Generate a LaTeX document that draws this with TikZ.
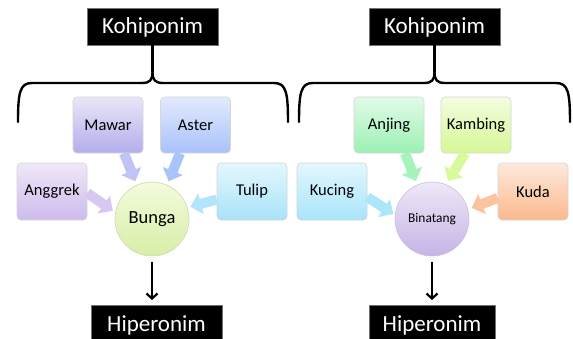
\documentclass[tikz,border=0pt]{standalone}
\usepackage{fontspec}
\setmainfont{Carlito}
\usetikzlibrary{arrows.meta,calc}
\definecolor{mawT}{HTML}{E9E6F8}\definecolor{mawB}{HTML}{B3ADEB}\definecolor{mawA}{HTML}{C0C4F4}
\definecolor{astT}{HTML}{E2EAFD}\definecolor{astB}{HTML}{A9C1FB}\definecolor{astA}{HTML}{A9C3FB}
\definecolor{angT}{HTML}{EFE8F8}\definecolor{angB}{HTML}{CDBBEC}\definecolor{angA}{HTML}{D6C8F1}
\definecolor{tulT}{HTML}{E3F7FE}\definecolor{tulB}{HTML}{A9E3F9}\definecolor{tulA}{HTML}{B2E5FB}
\definecolor{bunT}{HTML}{F4FBDD}\definecolor{bunB}{HTML}{D7EEA6}\definecolor{bunD}{HTML}{CCD9B0}
\definecolor{anjT}{HTML}{E2FBE9}\definecolor{anjB}{HTML}{9BF0B2}\definecolor{anjA}{HTML}{A6F3BC}
\definecolor{kamT}{HTML}{F4FDDF}\definecolor{kamB}{HTML}{D6F797}\definecolor{kamA}{HTML}{D9FA9A}
\definecolor{kucT}{HTML}{E3F7FE}\definecolor{kucB}{HTML}{A8E4F9}\definecolor{kucA}{HTML}{ACE6FA}
\definecolor{kudT}{HTML}{FDE9DC}\definecolor{kudB}{HTML}{FBB98D}\definecolor{kudA}{HTML}{FBC39E}
\definecolor{binT}{HTML}{EEE8F7}\definecolor{binB}{HTML}{C6B3E6}\definecolor{binD}{HTML}{C9C0DA}
\begin{document}
\begin{tikzpicture}[x=1pt,y=-1pt,
  box/.style 2 args={rounded corners=4pt, minimum width=70pt, minimum height=56pt, inner sep=0pt,
    top color=#1, bottom color=#2, draw=black!16, line width=0.6pt,
    font=\fontsize{16.5}{18}\selectfont},
  circ/.style 2 args={circle, minimum size=74pt, inner sep=0pt, top color=#1, bottom color=#2, line width=0.6pt},
  barrow/.style={draw=#1, line width=10pt, -{Triangle[length=11pt,width=21pt]}},
  titlebox/.style={fill=black, text=white, draw=black!55, line width=0.8pt, inner sep=0pt,
    font=\fontsize{23}{25}\selectfont},
  brace/.style={line width=2.4pt, line join=round, line cap=round},
  downarrow/.style={line width=2.2pt, -{Straight Barb[length=5pt,width=11pt]}}
]
\useasboundingbox (0,0) rectangle (573,338);
\fill[white] (0,0) rectangle (573,338);

% ---- left group ----
\node[titlebox, minimum width=131pt, minimum height=37pt, text height=14.5pt, text depth=0pt] (kohiL) at (152.5,26.5) {Kohiponim};
\node[box={mawT}{mawB}] (mawar) at (108,125) {Mawar};
\node[box={astT}{astB}] (aster) at (195.5,125) {Aster};
\node[box={angT}{angB}, minimum height=57pt] (anggrek) at (52,191.5) {Anggrek};
\node[box={tulT}{tulB}, minimum height=57pt] (tulip) at (252,191.5) {Tulip};
\node[circ={bunT}{bunB}, draw=bunD, font=\fontsize{18.5}{20}\selectfont] (bunga) at (152,219) {Bunga};
\node[titlebox, anchor=north, minimum width=131pt, text height=14.8pt, text depth=8pt, inner ysep=11pt] (hipL) at (156.5,305) {Hiperonim};

\coordinate (bl1) at (18,122);
\coordinate (bl2) at (288,122);
\draw[brace] (bl1) .. controls (18,92) and (20,83) .. (32,83) -- (142,83)
  .. controls (150,83) and (152.5,80) .. (152.5,72)
  .. controls (152.5,80) and (155,83) .. (163,83) -- (274,83)
  .. controls (286,83) and (288,92) .. (bl2);
\draw[brace] (152.5,72) -- (kohiL.south);

\draw[barrow=mawA, shorten >=4pt] ($(mawar.south)+(16,0)$) -- (bunga.114);
\draw[barrow=astA, shorten >=4pt] ($(aster.south)+(-15.5,0)$) -- (bunga.66);
\draw[barrow=angA, shorten >=3pt] ($(anggrek.east)+(0,1.5)$) -- (bunga.170);
\draw[barrow=tulA, shorten >=3pt] ($(tulip.west)+(0,8)$) -- (bunga.18);
\draw[downarrow, shorten <=6pt, shorten >=5pt] (bunga.south) -- (bunga.south |- hipL.north);

% ---- right group ----
\node[titlebox, minimum width=131pt, minimum height=37pt, text height=14.5pt, text depth=0pt] (kohiR) at (434.5,26.5) {Kohiponim};
\node[box={anjT}{anjB}] (anjing) at (389,125) {Anjing};
\node[box={kamT}{kamB}] (kambing) at (476,125) {Kambing};
\node[box={kucT}{kucB}, minimum height=57pt] (kucing) at (332,191.5) {Kucing};
\node[box={kudT}{kudB}, minimum height=57pt] (kuda) at (533,191.5) {Kuda};
\node[circ={binT}{binB}, draw=binD, font=\fontsize{13.4}{15}\selectfont] (binatang) at (432,219) {Binatang};
\node[titlebox, anchor=north, minimum width=126pt, text height=14.8pt, text depth=8pt, inner ysep=11pt] (hipR) at (432,305) {Hiperonim};

\coordinate (br1) at (299,122);
\coordinate (br2) at (570,122);
\draw[brace] (br1) .. controls (299,92) and (301,83) .. (313,83) -- (424,83)
  .. controls (432,83) and (434.5,80) .. (434.5,72)
  .. controls (434.5,80) and (437,83) .. (445,83) -- (556,83)
  .. controls (568,83) and (570,92) .. (br2);
\draw[brace] (434.5,72) -- (kohiR.south);

\draw[barrow=anjA, shorten >=4pt] ($(anjing.south)+(16,0)$) -- (binatang.113);
\draw[barrow=kamA, shorten >=4pt] ($(kambing.south)+(-11,0)$) -- (binatang.68);
\draw[barrow=kucA, shorten >=2pt] ($(kucing.east)+(0,5.5)$) -- (binatang.174);
\draw[barrow=kudA, shorten >=4pt] ($(kuda.west)+(0,6.5)$) -- (binatang.15);
\draw[downarrow, shorten <=6pt, shorten >=5pt] (binatang.south) -- (binatang.south |- hipR.north);
\end{tikzpicture}
\end{document}
